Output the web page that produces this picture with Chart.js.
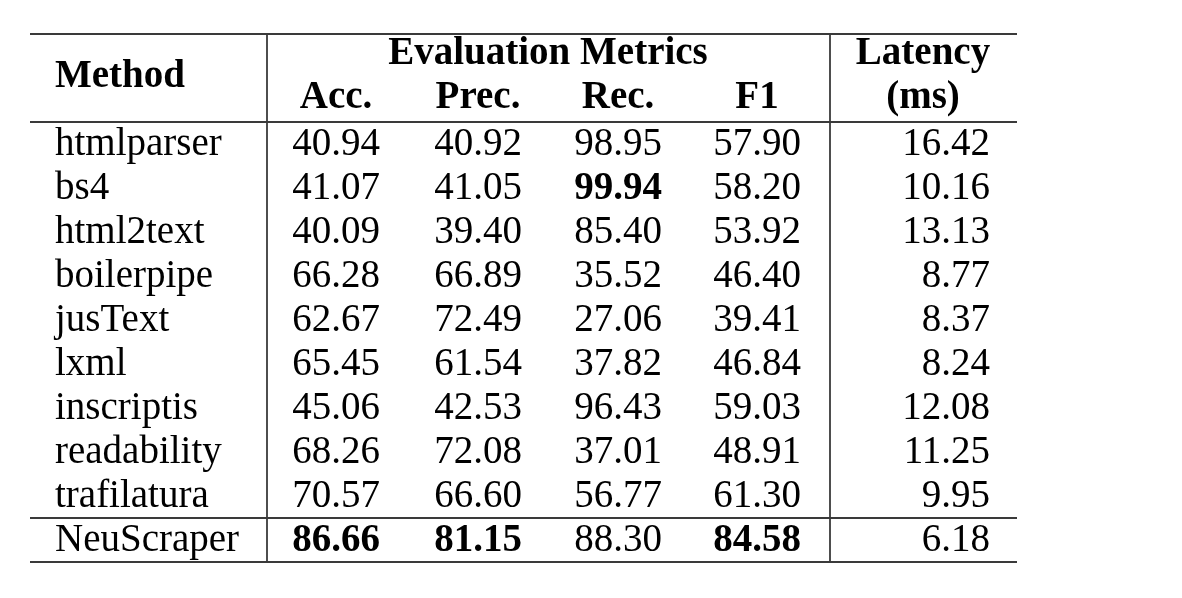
<!DOCTYPE html>
<html>
<head>
<meta charset="utf-8">
<script src="https://cdn.jsdelivr.net/npm/chart.js@4.4.1/dist/chart.umd.min.js"></script>
<style>
    html, body { margin: 0; padding: 0; background: #fff; }
    #wrap { width: 1182px; height: 598px; }
</style>
</head>
<body>
<div id="wrap"><canvas id="tabel"></canvas></div>
<script>
// Data tabel
const methods = ["htmlparser", "bs4", "html2text", "boilerpipe", "jusText", "lxml", "inscriptis", "readability", "trafilatura", "NeuScraper"];
const acc = [40.94, 41.07, 40.09, 66.28, 62.67, 65.45, 45.06, 68.26, 70.57, 86.66];
const prec = [40.92, 41.05, 39.40, 66.89, 72.49, 61.54, 42.53, 72.08, 66.60, 81.15];
const rec = [98.95, 99.94, 85.40, 35.52, 27.06, 37.82, 96.43, 37.01, 56.77, 88.30];
const f1 = [57.90, 58.20, 53.92, 46.40, 39.41, 46.84, 59.03, 48.91, 61.30, 84.58];
const latency = [16.42, 10.16, 13.13, 8.77, 8.37, 8.24, 12.08, 11.25, 9.95, 6.18];
const metricLabels = ["Acc.", "Prec.", "Rec.", "F1"];

// Posisi kolom (satuan sumbu x) dan gaya
const colMethod = 25;
const colMetric = [306, 448, 588, 727];
const colLatency = 960;
const colLatencyHead = 893;
const colEvalHead = 518;
const vLines = [237, 800];
const FONT = '"Liberation Serif", "Times New Roman", serif';

const rowLabels = ["h1", "h2"].concat(methods);

// Plugin untuk menggambar tabel lewat skala chart
const tabelPlugin = {
    id: "tabel",
    afterDraw(chart) {
        const { ctx, chartArea: a, scales: { x, y } } = chart;
        const rowY = i => y.getPixelForValue(i);
        const edge = i => (rowY(i - 1) + rowY(i)) / 2;

        ctx.save();
        // garis
        ctx.strokeStyle = "#3a3a3a";
        ctx.lineWidth = 1.8;
        [a.top, edge(2), edge(rowLabels.length - 1), a.bottom].forEach(yy => {
            ctx.beginPath();
            ctx.moveTo(a.left, yy);
            ctx.lineTo(a.right, yy);
            ctx.stroke();
        });
        vLines.forEach(v => {
            const xx = x.getPixelForValue(v);
            ctx.beginPath();
            ctx.moveTo(xx, a.top);
            ctx.lineTo(xx, a.bottom);
            ctx.stroke();
        });

        ctx.fillStyle = "#000";
        ctx.textBaseline = "alphabetic";
        const tulis = (teks, ux, yy, align, bold) => {
            ctx.font = (bold ? "bold " : "") + "39px " + FONT;
            ctx.textAlign = align;
            ctx.fillText(teks, x.getPixelForValue(ux), yy);
        };

        // header
        tulis("Method", colMethod, (rowY(0) + rowY(1)) / 2 + 9, "left", true);
        tulis("Evaluation Metrics", colEvalHead, rowY(0) + 8, "center", true);
        tulis("Latency", colLatencyHead, rowY(0) + 8, "center", true);
        metricLabels.forEach((m, j) => tulis(m, colMetric[j], rowY(1) + 8, "center", true));
        tulis("(ms)", colLatencyHead, rowY(1) + 8, "center", true);

        // isi
        const cols = [acc, prec, rec, f1];
        const maks = cols.map(c => Math.max(...c));
        methods.forEach((m, i) => {
            const yy = rowY(i + 2) + 11;
            tulis(m, colMethod, yy, "left", false);
            cols.forEach((c, j) => tulis(c[i].toFixed(2), colMetric[j], yy, "center", c[i] === maks[j]));
            tulis(latency[i].toFixed(2), colLatency, yy, "right", false);
        });
        ctx.restore();
    }
};

new Chart(document.getElementById("tabel"), {
    type: "scatter",
    data: { datasets: [] },
    options: {
        responsive: true,
        maintainAspectRatio: false,
        animation: false,
        layout: { padding: { left: 30, right: 165, top: 34, bottom: 36 } },
        plugins: { legend: { display: false }, tooltip: { enabled: false } },
        scales: {
            x: { type: "linear", min: 0, max: 987, display: false },
            y: { type: "category", labels: rowLabels, offset: true, display: false }
        }
    },
    plugins: [tabelPlugin]
});
</script>
</body>
</html>
